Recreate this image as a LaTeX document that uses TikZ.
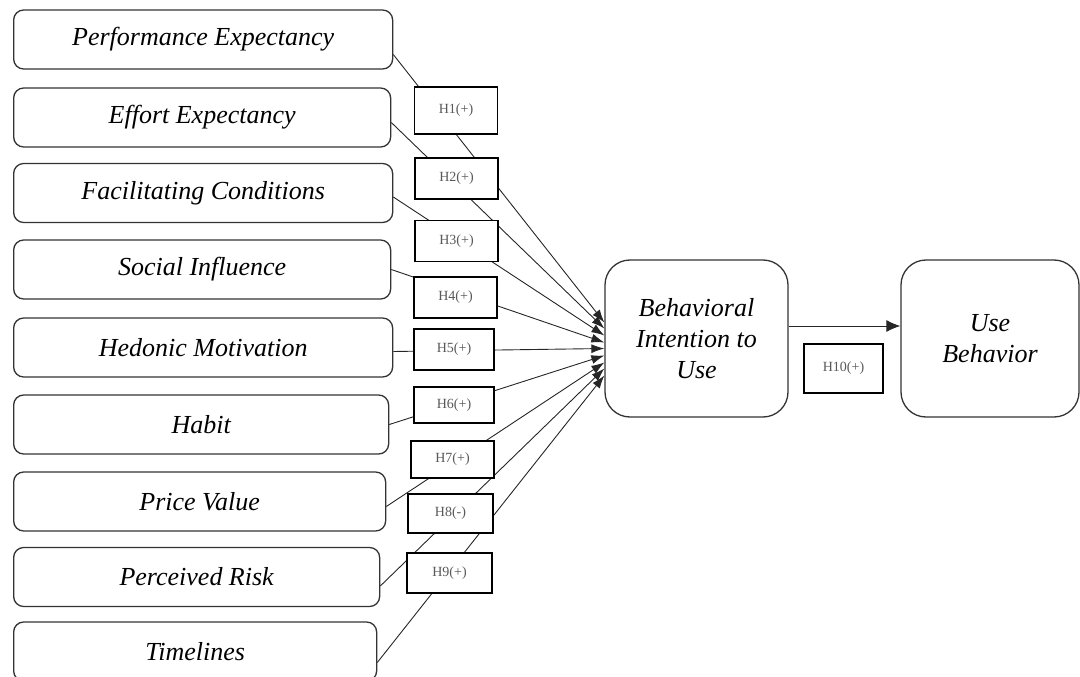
\documentclass[tikz,border=0pt]{standalone}
\usepackage{fontspec}
\setmainfont{Liberation Serif}
\usepackage{tikz}
\usetikzlibrary{arrows.meta}
\usetikzlibrary{positioning}
\tikzset{factor/.style = {draw = black!80, line width = 1.3pt, rounded corners = 10pt,
                          minimum height = 59pt, anchor = west, inner sep = 0,
                          font = \fontsize{26}{31}\selectfont\itshape}}
\tikzset{construct/.style = {draw = black!80, line width = 1.3pt, rounded corners = 25pt,
                             minimum height = 157pt, align = center, inner sep = 0,
                             font = \fontsize{26}{31}\selectfont\itshape}}
\tikzset{hyp/.style = {draw, fill = white, line width = 1.3pt, minimum width = 83pt,
                       minimum height = 41pt, inner sep = 0, text = black!65,
                       font = \fontsize{14}{16}\selectfont}}
\tikzset{link/.style = {line width = 0.9pt, black!85, -{Latex[length = 13pt, width = 9pt]}}}

\begin{document}
\begin{tikzpicture}[x = 1pt, y = -1pt]
      \useasboundingbox (0, 0) rectangle (1080, 677);

      \node [factor, minimum width = 379pt] (pe) at (13, 39.5) {Performance Expectancy};
      \node [factor, minimum width = 377pt] (ee) at (13, 117.5) {Effort Expectancy};
      \node [factor, minimum width = 379pt] (fc) at (13, 193) {Facilitating Conditions};
      \node [factor, minimum width = 377pt] (si) at (13, 269.5) {Social Influence};
      \node [factor, minimum width = 379pt] (hm) at (13, 347.5) {Hedonic Motivation};
      \node [factor, minimum width = 375pt] (hb) at (13, 424.5) {Habit};
      \node [factor, minimum width = 372pt] (pv) at (13, 501.5) {Price Value};
      \node [factor, minimum width = 366pt] (pr) at (13, 577) {Perceived Risk};
      \node [factor, minimum width = 363pt] (tl) at (13, 651.5) {Timelines};

      \node [construct, minimum width = 183pt] (bi) at (696.5, 338.5) {Behavioral\\Intention to\\Use};
      \node [construct, minimum width = 178pt] (ub) at (990, 338.5) {Use\\Behavior};

      \foreach \src/\sy/\ey in {pe/-15/16, ee/-5/10, fc/-4/3, si/0/-4, hm/-4/-10,
                                hb/0/-17, pv/-5/-24, pr/-9/-30, tl/-11/-37}
        \draw [link] ([yshift = \sy pt]\src.east) -- ([yshift = \ey pt]bi.west);

      \draw [link, -{Latex[length = 14pt, width = 12pt]}] ([yshift = 12.5pt]bi.east) -- ([yshift = 12.5pt]ub.west);

      \node [hyp, minimum height = 47pt] (h1) at (456, 110.5) {H1(+)};
      \node [hyp] (h2) at (456.5, 178.5) {H2(+)};
      \node [hyp] (h3) at (456.5, 241) {H3(+)};
      \node [hyp] (h4) at (455.5, 297.5) {H4(+)};
      \node [hyp, minimum width = 80pt] (h5) at (454, 349.5) {H5(+)};
      \node [hyp, minimum width = 80pt, minimum height = 36pt] (h6) at (454, 405) {H6(+)};
      \node [hyp, minimum height = 37pt] (h7) at (452.5, 459.5) {H7(+)};
      \node [hyp, minimum width = 85pt, minimum height = 39pt] (h8) at (450.5, 513.5) {H8(-)};
      \node [hyp, minimum width = 85pt, minimum height = 40pt] (h9) at (449.5, 573) {H9(+)};
      \node [hyp, minimum width = 79pt, minimum height = 49pt] (h10) at (843.5, 368.5) {H10(+)};
    \end{tikzpicture}
\end{document}
